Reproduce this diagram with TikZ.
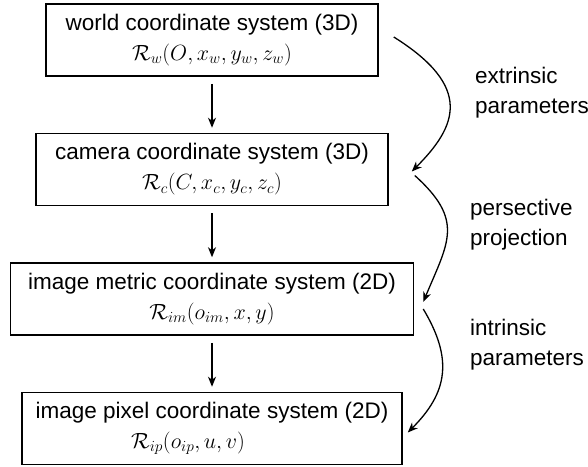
\RequirePackage{fix-cm}
\documentclass[tikz,border=0pt]{standalone}
\usepackage[no-math]{fontspec}
\setmainfont{Liberation Sans}
\usepackage{tikz}
\usetikzlibrary{arrows.meta,positioning}
\newcommand{\mathsz}[1]{{\fontsize{22}{30}\selectfont$#1$}}

\begin{document}
\begin{tikzpicture}[x=1pt, y=-1pt,
  frame/.style={draw, line width=1.5pt, minimum height=72pt, align=center,
    inner sep=0pt, font=\fontsize{22.5}{30}\selectfont},
  flow/.style={-{Stealth[length=10pt,width=8pt,inset=3pt]}, line width=1.3pt,
    shorten <=7pt, shorten >=5pt},
  bendarrow/.style={-{Stealth[length=10pt,width=8pt,inset=3pt]}, line width=1.3pt},
  note/.style={anchor=north west, align=left, inner sep=0pt,
    font=\fontsize{22.5}{30}\selectfont}
]
  \useasboundingbox (0,0) rectangle (588,466);

  \node[frame, minimum width=332pt] (world) at (212,40)
    {world coordinate system (3D)\\
     \mathsz{\mathcal{R}_w(O,x_w,y_w,z_w)}};
  \node[frame, minimum width=352pt, below=56pt of world] (camera)
    {camera coordinate system (3D)\\
     \mathsz{\mathcal{R}_c(C,x_c,y_c,z_c)}};
  \node[frame, minimum width=403pt, below=56pt of camera] (metric)
    {image metric coordinate system (2D)\\
     \mathsz{\mathcal{R}_{im}(o_{im},x,y)}};
  \node[frame, minimum width=380pt, below=56pt of metric] (pixel)
    {image pixel coordinate system (2D)\\
     \hspace*{-48pt}\mathsz{\mathcal{R}_{ip}(o_{ip},u,v)}};

  \draw[flow] (world) -- (camera);
  \draw[flow] (camera) -- (metric);
  \draw[flow] (metric) -- (pixel);

  % curved arrows on the right
  \draw[bendarrow] ([shift={(15,-3)}]world.east)
    .. controls +(80,50) and +(45,-45) .. ([shift={(23,2)}]camera.east);
  \draw[bendarrow] ([shift={(26,6)}]camera.east)
    .. controls +(50,45) and +(25,-60) .. ([shift={(9,3)}]metric.east);
  \draw[bendarrow] ([shift={(9,10)}]metric.east)
    .. controls +(30,50) and +(40,-40) .. ([shift={(5,4)}]pixel.east);

  \node[note] (extr) at (475,67) {extrinsic\\parameters};
  \node[note] (persp) at (470,199) {persective\\projection};
  \node[note] (intr) at (470,319) {intrinsic\\parameters};
\end{tikzpicture}
\end{document}
